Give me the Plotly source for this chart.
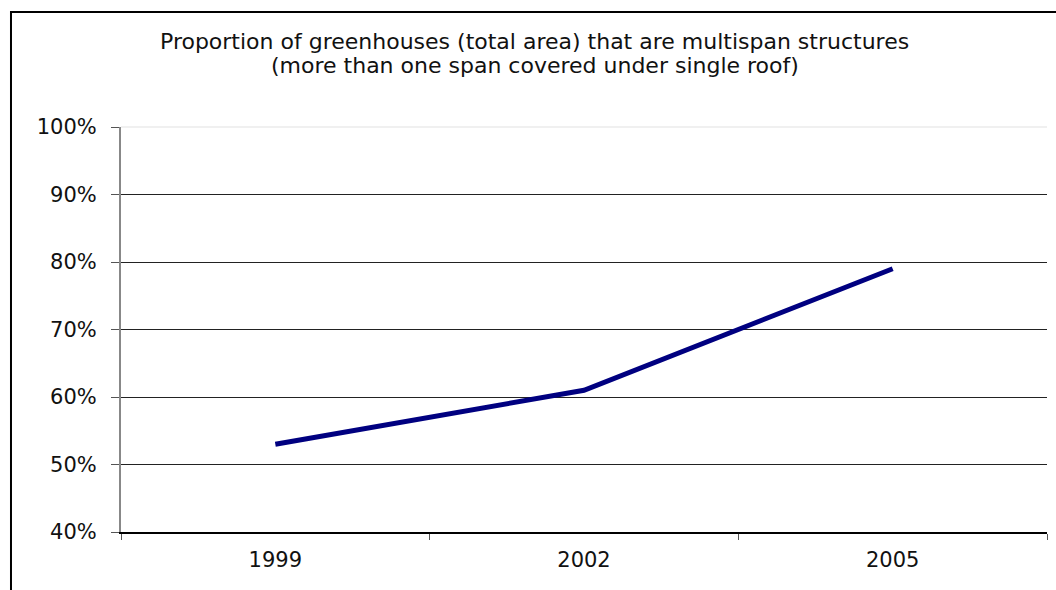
import plotly.graph_objects as go

# Survey years and share of greenhouse area under multispan structures (%)
years = ["1999", "2002", "2005"]
multispan_share = [53, 61, 79]

y_ticks = [40, 50, 60, 70, 80, 90, 100]
y_tick_labels = ["40%", "50%", "60%", "70%", "80%", "90%", "100%"]

title_lines = [
    "Proportion of greenhouses (total area) that are multispan structures",
    "(more than one span covered under single roof)",
]

FONT = "DejaVu Sans, Arial, sans-serif"

fig = go.Figure()
fig.add_trace(go.Scatter(
    x=years,
    y=multispan_share,
    mode="lines",
    line=dict(color="#000080", width=5),
    hoverinfo="x+y",
))

fig.update_layout(
    width=1056,
    height=590,
    margin=dict(l=121, r=9, t=127, b=58),
    paper_bgcolor="white",
    plot_bgcolor="white",
    showlegend=False,
    font=dict(family=FONT, size=21, color="black"),
    xaxis=dict(
        type="category",
        range=[-0.5, 2.5],
        showgrid=False,
        showline=True,
        linecolor="black",
        linewidth=1.5,
        ticks="outside",
        tickson="boundaries",
        ticklen=6,
        tickcolor="#555",
        tickwidth=1,
        tickfont=dict(size=21, color="#111"),
        ticklabelstandoff=8,
        zeroline=False,
        fixedrange=True,
    ),
    yaxis=dict(
        range=[40, 100],
        tickvals=y_ticks,
        ticktext=y_tick_labels,
        showgrid=True,
        gridcolor="#222",
        gridwidth=1,
        showline=True,
        linecolor="#888",
        linewidth=2,
        ticks="outside",
        ticklen=8,
        tickcolor="#555",
        tickfont=dict(size=21, color="#111"),
        ticklabelstandoff=10,
        zeroline=False,
        fixedrange=True,
    ),
)

# Two-line chart heading, with tighter line spacing than a default title
for text, ypos in zip(title_lines, [1.2099, 1.1519]):
    fig.add_annotation(
        text=text, xref="paper", yref="paper",
        x=0.447, y=ypos, xanchor="center", yanchor="middle",
        showarrow=False,
        font=dict(family=FONT, size=22, color="#111"),
    )

# Top gridline is drawn faint, as in the original chart styling
fig.add_shape(type="line", xref="paper", yref="paper",
              x0=0, x1=1, y0=1, y1=1,
              line=dict(color="#f0f0f0", width=2), layer="above")

# Chart frame (left and top edges fall inside the page)
fig.add_shape(type="rect", xref="paper", yref="paper",
              x0=-0.1188, x1=1.5, y0=-0.5, y1=1.284,
              line=dict(color="black", width=2), layer="above")

fig.write_html("out.html")
